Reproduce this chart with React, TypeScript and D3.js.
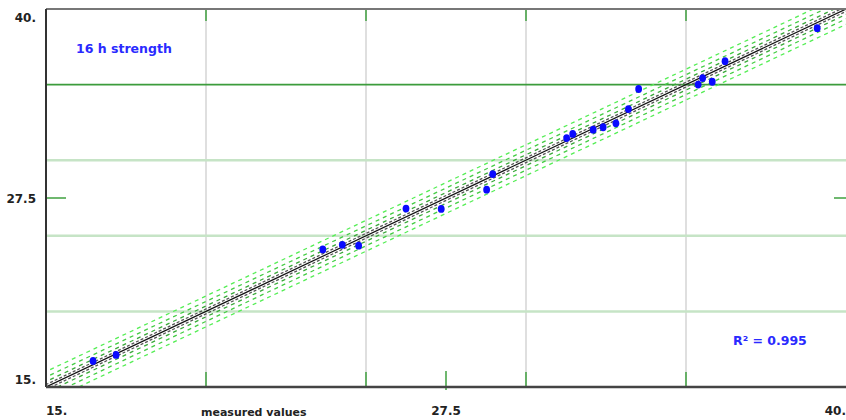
import React from "react";
import * as d3 from "d3";

const measuredX = [16.47, 17.19, 23.65, 24.26, 24.77, 26.25, 27.35, 28.77, 28.96, 31.27, 31.46, 32.1, 32.41, 32.81, 33.2, 33.52, 35.38, 35.52, 35.82, 36.22, 39.1];
const predictedY = [16.72, 17.12, 24.1, 24.4, 24.35, 26.8, 26.78, 28.05, 29.08, 31.46, 31.74, 32.02, 32.18, 32.44, 33.38, 34.71, 35.0, 35.43, 35.19, 36.55, 38.73];
const xTicks = [15, 27.5, 40];
const yTicks = [15, 27.5, 40];
const xTickLabels = ["15.", "27.5", "40."];
const yTickLabels = ["15.", "27.5", "40."];
const verticalGrid = [20, 25, 30, 35];
const horizontalGridLight = [20, 25, 30];
const horizontalGridDark = [35];
const regression = { intercept: 0, slope: 1 };
const bandOffsets = [0.16, 0.36, 0.66, 1.02];
const bandColors = ["#555555", "#3aa83a", "#44cc44", "#55ee55"];
const rSquared = "R² = 0.995";
const chartTitle = "16 h strength";
const xAxisTitle = "measured values";

export default function App() {
  const W = 846;
  const H = 420;
  const left = 46, right = 846, top = 9, bottom = 387;
  const x = d3.scaleLinear().domain([15, 40]).range([left, right]);
  const y = d3.scaleLinear().domain([15, 40]).range([bottom, top]);
  const xs = [14, 41];
  const mkLine = (off: number) =>
    d3.line<number>()
      .x((d) => x(d))
      .y((d) => y(regression.intercept + regression.slope * d + off))(xs) || "";
  const font = "'DejaVu Sans', Verdana, sans-serif";
  return (
    <svg width={W} height={H} style={{ position: "absolute", left: 0, top: 0, background: "#fff" }}>
      <defs>
        <clipPath id="plotClip">
          <rect x={left} y={top} width={right - left} height={bottom - top} />
        </clipPath>
      </defs>
      <rect x={0} y={0} width={W} height={H} fill="#fff" />
      {verticalGrid.map((v) => (
        <g key={"v" + v}>
          <line x1={x(v)} x2={x(v)} y1={top} y2={bottom} stroke="#d4d4d4" strokeWidth={1.5} />
          <line x1={x(v)} x2={x(v)} y1={top} y2={top + 12} stroke="#3fa03f" strokeWidth={1.5} />
          <line x1={x(v)} x2={x(v)} y1={bottom - 15} y2={bottom} stroke="#3fa03f" strokeWidth={1.5} />
        </g>
      ))}
      {horizontalGridLight.map((v) => (
        <line key={"h" + v} x1={left} x2={right} y1={y(v)} y2={y(v)} stroke="#c6e4c6" strokeWidth={2.5} />
      ))}
      {horizontalGridDark.map((v) => (
        <line key={"hd" + v} x1={left} x2={right} y1={y(v)} y2={y(v)} stroke="#3c9c3c" strokeWidth={1.8} />
      ))}
      <line x1={x(27.5)} x2={x(27.5)} y1={bottom - 16} y2={bottom + 3} stroke="#3fa03f" strokeWidth={1.5} />
      <line x1={left} x2={left + 20} y1={y(27.5)} y2={y(27.5)} stroke="#3fa03f" strokeWidth={1.5} />
      <line x1={right - 12} x2={right} y1={y(27.5)} y2={y(27.5)} stroke="#3fa03f" strokeWidth={1.5} />
      <g clipPath="url(#plotClip)">
        {bandOffsets.map((o, i) => (
          <g key={"b" + i}>
            <path d={mkLine(o)} fill="none" stroke={bandColors[i]} strokeWidth={1.3} strokeDasharray={i === 0 ? "3,2" : "4,4"} />
            <path d={mkLine(-o)} fill="none" stroke={bandColors[i]} strokeWidth={1.3} strokeDasharray={i === 0 ? "3,2" : "4,4"} />
          </g>
        ))}
        <path d={mkLine(0)} fill="none" stroke="#111" strokeWidth={1.2} />
        {measuredX.map((mx, i) => (
          <ellipse key={"p" + i} cx={x(mx)} cy={y(predictedY[i])} rx={3.4} ry={3.9} fill="#0a0aff" />
        ))}
      </g>
      <line x1={left} x2={right} y1={top} y2={top} stroke="#777" strokeWidth={2} />
      <line x1={left} x2={left} y1={top} y2={bottom} stroke="#333" strokeWidth={2} />
      <line x1={left} x2={right} y1={bottom} y2={bottom} stroke="#444" strokeWidth={2.5} />
      {yTicks.map((v, i) => (
        <text key={"yl" + i} x={36} y={y(v) + (i === 0 ? -3 : i === 2 ? 13 : 5)} textAnchor="end" fontFamily={font} fontWeight="bold" fontSize={12} fill="#222">
          {yTickLabels[i]}
        </text>
      ))}
      {xTicks.map((v, i) => (
        <text key={"xl" + i} x={x(v)} y={415} textAnchor={i === 0 ? "start" : i === 2 ? "end" : "middle"} fontFamily={font} fontWeight="bold" fontSize={12} fill="#222">
          {xTickLabels[i]}
        </text>
      ))}
      <text x={201} y={416} fontFamily={font} fontWeight="bold" fontSize={11} fill="#222">{xAxisTitle}</text>
      <text x={76} y={53} fontFamily={font} fontWeight="bold" fontSize={12.5} fill="#2a2aff">{chartTitle}</text>
      <text x={733} y={345} fontFamily={font} fontWeight="bold" fontSize={12.5} fill="#2a2aff">{rSquared}</text>
    </svg>
  );
}
